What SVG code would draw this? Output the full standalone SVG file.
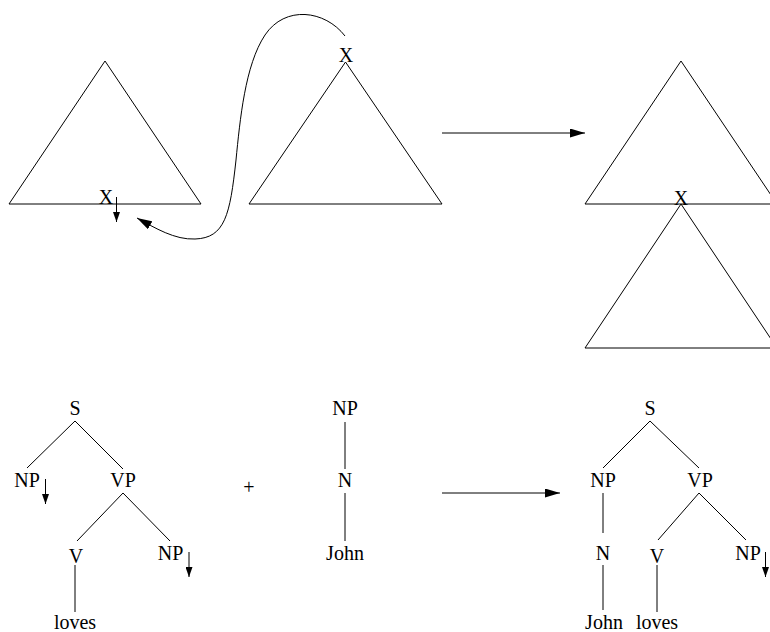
<svg xmlns="http://www.w3.org/2000/svg" width="770" height="632" viewBox="0 0 770 632">
<style>
.ln{stroke:#000;stroke-width:1;fill:none}
.tri{stroke:#000;stroke-width:1;fill:none;stroke-linejoin:miter}
.t{font-family:"Liberation Serif","Times New Roman",serif;font-size:20px;fill:#000;text-anchor:middle}
</style>
<defs>
<marker id="big" markerUnits="userSpaceOnUse" markerWidth="16" markerHeight="9" refX="15" refY="4.5" orient="auto">
<path d="M0,0 L15,4.5 L0,9 z" fill="#000"/>
</marker>
<marker id="small" markerUnits="userSpaceOnUse" markerWidth="11" markerHeight="7" refX="10" refY="3.5" orient="auto">
<path d="M0,0 L10,3.5 L0,7 z" fill="#000"/>
</marker>
</defs>
<rect width="770" height="632" fill="#fff"/>

<g id="tri-left">
<polygon class="tri" points="105,61 9,204 201,204"/>
<text class="t" x="106" y="204">X</text>
<line class="ln" x1="116.5" y1="197" x2="116.5" y2="222" marker-end="url(#small)"/>
</g>
<g id="tri-mid">
<polygon class="tri" points="345.5,62 249,204 442,204"/>
<text class="t" x="346" y="62">X</text>
</g>
<g id="tri-right-top">
<polygon class="tri" points="681,61 585,204 777,204"/>
</g>
<g id="tri-right-bottom">
<polygon class="tri" points="681,204 585,348 777,348"/>
<text class="t" x="681" y="205">X</text>
</g>

<g id="tree-left">
<text class="t" x="75" y="415">S</text>
<text class="t" x="27" y="487">NP</text>
<line class="ln" x1="45.5" y1="479" x2="45.5" y2="504" marker-end="url(#small)"/>
<text class="t" x="123" y="487">VP</text>
<text class="t" x="76" y="563">V</text>
<text class="t" x="170.5" y="560">NP</text>
<line class="ln" x1="189" y1="552" x2="189" y2="577" marker-end="url(#small)"/>
<text class="t" x="75" y="629">loves</text>
</g>
<g id="plus"><text class="t" x="249" y="494">+</text></g>
<g id="tree-john">
<text class="t" x="345" y="415">NP</text>
<text class="t" x="345" y="487">N</text>
<text class="t" x="345" y="560">John</text>
</g>
<g id="tree-result">
<text class="t" x="650" y="415">S</text>
<text class="t" x="603" y="487">NP</text>
<text class="t" x="700" y="487">VP</text>
<text class="t" x="603" y="560">N</text>
<text class="t" x="657" y="563">V</text>
<text class="t" x="748" y="560">NP</text>
<line class="ln" x1="765.5" y1="552" x2="765.5" y2="577" marker-end="url(#small)"/>
<text class="t" x="604" y="629">John</text>
<text class="t" x="657" y="629">loves</text>
</g>

<g id="connectors">
<path class="ln" d="M345,36 C325,10 285,5 265,35 C245,65 240,120 236,160 C230,215 225,238 195,239 C175,240 155,228 137,218" marker-end="url(#big)"/>
<line class="ln" x1="442" y1="133" x2="585" y2="133" marker-end="url(#big)"/>
<line class="ln" x1="442" y1="493" x2="560" y2="493" marker-end="url(#big)"/>
<line class="ln" x1="75" y1="421" x2="27" y2="468"/>
<line class="ln" x1="75" y1="421" x2="123" y2="469"/>
<line class="ln" x1="123" y1="493" x2="77" y2="541"/>
<line class="ln" x1="123" y1="493" x2="170" y2="541"/>
<line class="ln" x1="75" y1="565" x2="75" y2="612"/>
<line class="ln" x1="345" y1="422" x2="345" y2="469"/>
<line class="ln" x1="345" y1="493" x2="345" y2="541"/>
<line class="ln" x1="650" y1="421" x2="603" y2="468"/>
<line class="ln" x1="650" y1="421" x2="699" y2="468"/>
<line class="ln" x1="603" y1="493" x2="603" y2="533"/>
<line class="ln" x1="603" y1="565" x2="603" y2="610"/>
<line class="ln" x1="699" y1="493" x2="658" y2="540"/>
<line class="ln" x1="699" y1="493" x2="746" y2="540"/>
<line class="ln" x1="657" y1="565" x2="657" y2="612"/>
</g>
</svg>
